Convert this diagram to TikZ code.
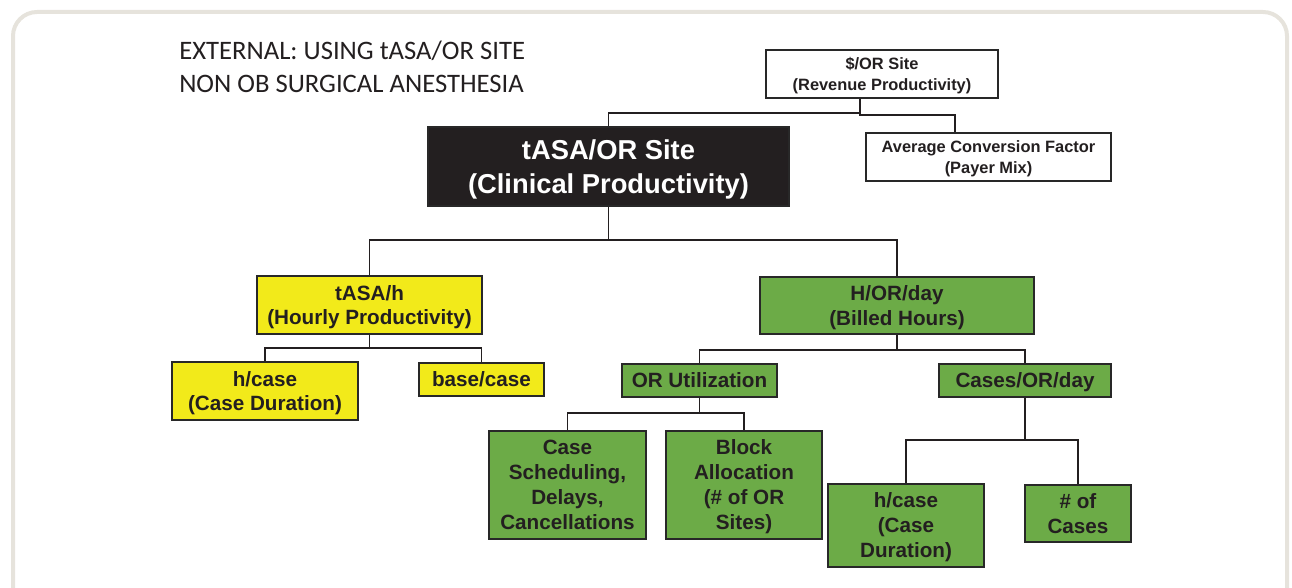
\documentclass[tikz,border=0pt]{standalone}
\usepackage{fontspec}
\setmainfont{Liberation Sans}
\newfontfamily\calib{Carlito}
\usepackage{xcolor}
\definecolor{frm}{RGB}{230,227,220}
\definecolor{ink}{RGB}{35,31,32}
\definecolor{yel}{RGB}{242,234,26}
\definecolor{grn}{RGB}{108,171,71}

\begin{document}
\begin{tikzpicture}[x=0.75pt,y=0.75pt,yscale=-1,xscale=1,
  box/.style={draw={rgb, 255:red, 40; green, 40; blue, 40 }, line width=0.9pt, inner sep=1pt, align=center, text=ink, text depth=0pt, font=\bfseries},
  whitebox/.style={box, fill=white, font=\bfseries\fontsize{12.3}{15.75}\selectfont},
  blackbox/.style={box, fill=ink, text=white, font=\bfseries\fontsize{20.5}{25.5}\selectfont},
  yelbox/.style={box, fill=yel, font=\bfseries\fontsize{15.5}{18}\selectfont},
  grnbox/.style={box, fill=grn, font=\bfseries\fontsize{15.5}{18.75}\selectfont},
  link/.style={draw=ink, line width=0.8pt}]
\useasboundingbox (0,0) rectangle (1292,588);

%Shape: Rounded Rect [id:frame]
\draw [frm, line width=3pt, rounded corners=18pt] (13,12) rectangle (1287,620);

% Text Node
\node [anchor=west, inner sep=0pt, text=ink, font=\calib\fontsize{20}{24}\selectfont] (ttl1) at (179,51) {EXTERNAL: USING tASA/OR SITE};
% Text Node
\node [anchor=west, inner sep=0pt, text=ink, font=\calib\fontsize{20}{24}\selectfont] (ttl2) at (179,84) {NON OB SURGICAL ANESTHESIA};

%Shape: Rectangle [id:site]
\node [whitebox, minimum width=174pt, minimum height=36pt] (site) at (882,74) {\$/OR Site\\(Revenue Productivity)};
%Shape: Rectangle [id:avg]
\node [whitebox, minimum width=183.75pt, minimum height=36pt] (avg) at (988.5,157) {Average Conversion Factor\\(Payer Mix)};
%Shape: Rectangle [id:tasa]
\node [blackbox, minimum width=270.75pt, minimum height=59.25pt] (tasa) at (608.5,166.5) {tASA/OR Site\\(Clinical Productivity)};

%Shape: Rectangle [id:tasah]
\node [yelbox, minimum width=168.75pt, minimum height=43.5pt] (tasah) at (369.5,305) {tASA/h\\(Hourly Productivity)};
%Shape: Rectangle [id:hor]
\node [grnbox, minimum width=205.5pt, minimum height=42.75pt] (hor) at (897,305.5) {H/OR/day\\(Billed Hours)};

%Shape: Rectangle [id:hcase]
\node [yelbox, minimum width=139.5pt, minimum height=43.5pt] (hcase) at (265,391) {h/case\\(Case Duration)};
%Shape: Rectangle [id:basecase]
\node [yelbox, minimum width=93.75pt, minimum height=24.75pt] (basecase) at (481.5,379.5) {base/case};
%Shape: Rectangle [id:oruti]
\node [grnbox, minimum width=116.25pt, minimum height=24.75pt] (oruti) at (699.5,380.5) {OR Utilization};
%Shape: Rectangle [id:cases]
\node [grnbox, minimum width=129pt, minimum height=24.75pt] (cases) at (1025,380.5) {Cases/OR/day};

%Shape: Rectangle [id:sched]
\node [grnbox, minimum width=117.75pt, minimum height=81pt] (sched) at (567.5,485) {Case\\Scheduling,\\Delays,\\Cancellations};
%Shape: Rectangle [id:block]
\node [grnbox, minimum width=117pt, minimum height=81pt] (block) at (744,485) {Block\\Allocation\\(\# of OR\\Sites)};
%Shape: Rectangle [id:hcase2]
\node [grnbox, minimum width=117pt, minimum height=62.25pt] (hcase2) at (906,525.5) {h/case\\(Case\\Duration)};
%Shape: Rectangle [id:ncases]
\node [grnbox, minimum width=79.5pt, minimum height=42.75pt] (ncases) at (1078,513.5) {\# of\\Cases};

%Straight Lines: bus points
\coordinate (b0) at (860,113);
\coordinate (b0r) at (955,115);
\coordinate (b1) at (608.5,240);
\coordinate (b2) at (369.5,348);
\coordinate (b3) at (897,350);
\coordinate (b4) at (699.5,413);
\coordinate (b5) at (1025,440);

%Straight Lines
\draw [link] (site.south -| b0) -- (b0) -| (tasa.north);
\draw [link] (b0) |- (b0r) -- (avg.north -| b0r);
\draw [link] (tasa.south) -- (b1) -| (tasah.north);
\draw [link] (b1) -| (hor.north);
\draw [link] (tasah.south) -- (b2) -| (hcase.north);
\draw [link] (b2) -| (basecase.north);
\draw [link] (hor.south) -- (b3) -| (oruti.north);
\draw [link] (b3) -| (cases.north);
\draw [link] (oruti.south) -- (b4) -| (sched.north);
\draw [link] (b4) -| (block.north);
\draw [link] (cases.south) -- (b5) -| (hcase2.north);
\draw [link] (b5) -| (ncases.north);

\end{tikzpicture}
\end{document}
